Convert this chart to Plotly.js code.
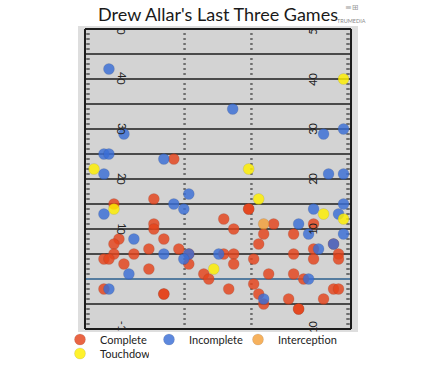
<!DOCTYPE html>
<html>
<head>
<meta charset="utf-8">
<script src="https://cdn.plot.ly/plotly-3.0.1.min.js"></script>
<style>
html, body { margin: 0; padding: 0; background: #ffffff; }
#chart { width: 436px; height: 377px; }
</style>
</head>
<body>
<div id="chart"></div>
<script>
// ---- Data: pass locations (x = yards from left sideline, y = air yards from line of scrimmage)
const completeX = [17.8, 13.8, 5.8, 32.8, 32.8, 27.8, 37.8, 45.8, 29.8, 13.8, 13.8, 35.8, 41.8, 6.8, 5.8, 15.8, 34.8, 12.8, 18.8, 45.8, 49.8, 5.8, 3.8, 4.8, 9.8, 20.8, 20.8, 7.8, 12.8, 23.8, 24.8, 27.8, 29.8, 29.8, 33.8, 41.8, 45.8, 50.8, 50.8, 36.8, 41.8, 43.8, 33.8, 28.8, 34.8, 35.8, 40.8, 42.8, 42.8, 47.8, 49.8, 50.8, 3.8, 15.8, 15.8];
const completeY = [24, 16, 15, 14, 14, 12, 11, 11, 10, 11, 10, 9, 9, 8, 7, 8, 7, 6, 6, 6, 7, 5, 4, 4, 5, 5, 3, 3, 2, 1, 0, 5, 5, 3, 4, 5, 4, 5, 4, 1, 1, 0, -1, -2, -3, -5, -4, -6, -6, -4, -2, -2, -2, -3, -3];

const incompleteX = [4.8, 29.6, 7.8, 47.8, 51.8, 3.8, 4.8, 15.8, 3.8, 48.8, 51.8, 20.8, 17.8, 19.8, 3.8, 45.8, 51.8, 50.8, 42.8, 44.8, 51.8, 9.8, 49.8, 46.8, 15.8, 20.8, 19.8, 26.8, 8.8, 44.8, 35.8, 4.8];
const incompleteY = [42, 34, 29, 29, 30, 25, 25, 24, 21, 21, 21, 17, 15, 14, 13, 14, 15, 13, 11, 9, 9, 8, 7, 6, 5, 5, 4, 5, 1, 0, -4, -2];

const interceptionX = [35.8];
const interceptionY = [11];

const touchdownX = [51.8, 1.8, 32.8, 5.8, 34.8, 47.8, 51.8, 25.8];
const touchdownY = [40, 22, 22, 14, 16, 13, 12, 2];

const seriesNames = ['Complete', 'Incomplete', 'Interception', 'Touchdown'];
const yardLabels = [-10, 10, 20, 30, 40, 50];

// ---- Field geometry
const FIELD_W = 53.3;
const Y_MIN = -10, Y_MAX = 50;

const shapes = [];
shapes.push({type: 'rect', xref: 'x', yref: 'y', x0: 0, x1: FIELD_W, y0: Y_MIN, y1: Y_MAX,
  fillcolor: '#d3d3d3', line: {width: 0}, layer: 'below'});
// sideline ticks + hash marks every yard
for (let yd = Y_MIN + 1; yd < Y_MAX; yd++) {
  if (yd % 5 === 0) continue;
  [[0.25, 0.95], [FIELD_W - 0.95, FIELD_W - 0.25], [19.7, 20.2], [FIELD_W - 20.2, FIELD_W - 19.7]].forEach(seg => {
    shapes.push({type: 'line', xref: 'x', yref: 'y', x0: seg[0], x1: seg[1], y0: yd, y1: yd,
      line: {color: '#2a2a2a', width: 1.2}, layer: 'below'});
  });
}
// yard lines every 5 yards
for (let yd = Y_MIN; yd <= Y_MAX; yd += 5) {
  const isLOS = yd === 0;
  const edge = yd === Y_MIN || yd === Y_MAX;
  shapes.push({type: 'line', xref: 'x', yref: 'y', x0: 0, x1: FIELD_W, y0: yd, y1: yd,
    line: {color: isLOS ? '#2b5f8e' : '#1c1c1c', width: edge ? 2 : 1.6}, layer: 'below'});
}
// sidelines
[0, FIELD_W].forEach(xv => {
  shapes.push({type: 'line', xref: 'x', yref: 'y', x0: xv, x1: xv, y0: Y_MIN, y1: Y_MAX,
    line: {color: '#1c1c1c', width: 2}, layer: 'below'});
});

// ---- Yard numbers, drawn character by character so the field edge trims them
const annotations = [];
const charW = ch => (ch === '-' ? 4 : 6.4); // px
const PX_PER_YD = 5;
function addLabel(val, xPos, side) {
  const s = String(val);
  const total = s.split('').reduce((a, c) => a + charW(c), 0);
  let acc = 0;
  s.split('').forEach(c => {
    const centerFromStart = acc + charW(c) / 2;
    acc += charW(c);
    const off = (centerFromStart - total / 2) / PX_PER_YD;
    // left side reads top->bottom, right side reads bottom->top
    const yv = side === 'left' ? val - off : val + off;
    if (yv < Y_MIN - 0.4 || yv > Y_MAX + 0.2) return;
    annotations.push({xref: 'x', yref: 'y', x: xPos, y: yv, text: c, showarrow: false,
      textangle: side === 'left' ? 90 : -90, xanchor: 'center', yanchor: 'middle',
      font: {family: 'Lato, sans-serif', size: 11, color: '#222'}});
  });
}
yardLabels.forEach(v => { addLabel(v, 7.4, 'left'); addLabel(v, FIELD_W - 7.7, 'right'); });

// logo
annotations.push({xref: 'paper', yref: 'paper', x: 0.975, y: 1.017, text: 'TRUMEDIA', showarrow: false,
  xanchor: 'center', yanchor: 'middle', font: {family: 'Lato, sans-serif', size: 5.5, color: '#8a8a8a'}});
annotations.push({xref: 'paper', yref: 'paper', x: 0.975, y: 1.06, text: '≡⊞', showarrow: false,
  xanchor: 'center', yanchor: 'middle', font: {family: 'DejaVu Sans, sans-serif', size: 8, color: '#9a9a9a'}});

const colors = ['rgb(229,68,28)', 'rgb(58,110,214)', 'rgb(245,160,58)', 'rgb(255,240,0)'];
const xs = [completeX, incompleteX, interceptionX, touchdownX];
const ys = [completeY, incompleteY, interceptionY, touchdownY];
const legendOf = ['legend', 'legend', 'legend', 'legend2'];

const traces = seriesNames.map((name, i) => {
  const t = {
    type: 'scatter', mode: 'markers', name: name,
    x: xs[i], y: ys[i], legend: legendOf[i],
    marker: {size: 11, color: colors[i], opacity: 0.82,
             line: {width: 0.4, color: 'rgba(60,60,60,0.35)'}},
    hoverinfo: 'skip'
  };
  if (i === 2) t.legendwidth = 58;
  return t;
});

const legendBase = {
  orientation: 'h', xref: 'container', yref: 'container', xanchor: 'left', yanchor: 'top',
  entrywidth: 44, entrywidthmode: 'pixels', itemwidth: 30,
  font: {family: 'Lato, sans-serif', size: 11, color: '#222'},
  bgcolor: 'rgba(0,0,0,0)'
};

const layout = {
  width: 436, height: 377,
  margin: {l: 78, r: 78, t: 26, b: 45, autoexpand: false},
  paper_bgcolor: '#ffffff',
  plot_bgcolor: '#dedede',
  title: {text: "Drew Allar's Last Three Games", xref: 'container', x: 0.5, xanchor: 'center',
          yref: 'container', y: 0.962, yanchor: 'middle',
          font: {family: 'Lato, sans-serif', size: 18, color: '#1a1a1a'}},
  xaxis: {range: [-1.4, 54.7], visible: false, fixedrange: true},
  yaxis: {range: [-10.6, 50.6], visible: false, fixedrange: true},
  showlegend: true,
  legend: Object.assign({}, legendBase, {x: 60 / 436, y: 1 - 325 / 377}),
  legend2: Object.assign({}, legendBase, {x: 60 / 436, y: 1 - 339 / 377}),
  shapes: shapes,
  annotations: annotations,
  hovermode: false
};

Plotly.newPlot('chart', traces, layout, {displayModeBar: false, staticPlot: true});
</script>
</body>
</html>
